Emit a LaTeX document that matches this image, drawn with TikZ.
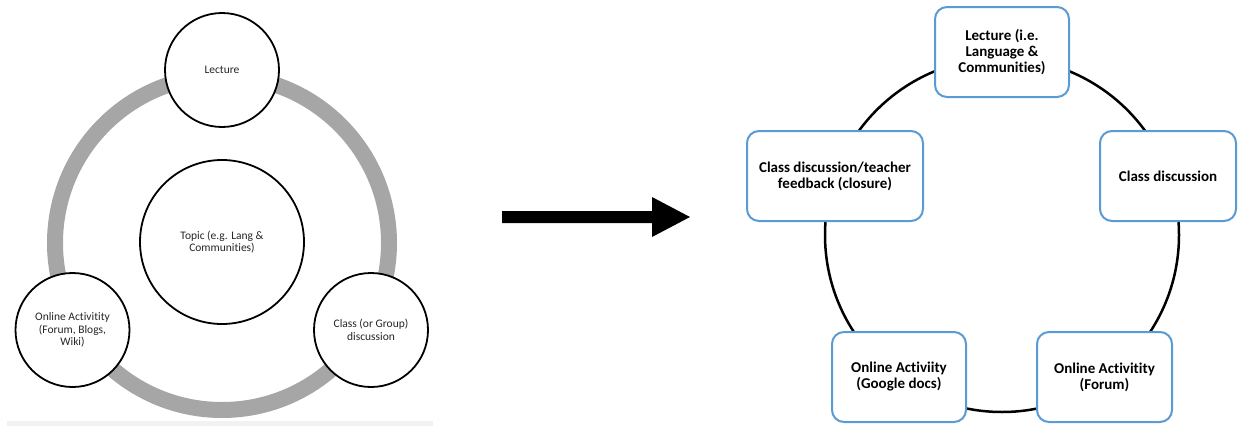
\documentclass[tikz,border=0pt]{standalone}
\usepackage{fontspec}
\usetikzlibrary{calc}
\setmainfont{Carlito}[Ligatures=NoCommon]
\definecolor{ringgray}{HTML}{A6A6A6}
\definecolor{cardblue}{HTML}{5B9BD5}
\definecolor{textdark}{HTML}{262626}
\definecolor{stripgray}{HTML}{F2F2F2}
\begin{document}
\begin{tikzpicture}[x=1pt,y=-1pt,
  ring/.style={draw=ringgray, line width=16pt},
  stage/.style={circle, draw=black, line width=1.8pt, fill=white,
    minimum size=114pt, inner sep=0pt, align=center,
    font=\fontsize{11.5}{12.5}\selectfont, text=textdark},
  hub/.style={stage, minimum size=164pt},
  card/.style={draw=cardblue, line width=2pt, rounded corners=12pt,
    fill=white, align=center, minimum height=90pt, inner sep=0pt,
    font=\fontsize{15}{16}\selectfont\bfseries, text=black},
  loop/.style={draw=black, line width=2.5pt},
  blockarrow/.style={fill=black}]
  \useasboundingbox (0,0) rectangle (1256,426);

  % ---- cycle around a topic ----
  \fill[stripgray] (7,421) rectangle (433,426);
  \coordinate (ringc) at (222,243);
  \draw[ring] (ringc) circle[radius=167];
  \node[hub]   (topic)   at (222,242) {Topic (e.g. Lang \&\\Communities)};
  \node[stage] (lecture) at (222,70)  {Lecture};
  \node[stage] (online)  at (72.5,330) {Online Activitity\\(Forum, Blogs,\\Wiki)};
  \node[stage] (class)   at (371,330) {Class (or Group)\\discussion};

  % ---- block arrow between the two cycles ----
  \coordinate (atail) at (502,217);
  \coordinate (atip)  at (690,217);
  \fill[blockarrow] ($(atail)+(0,-6)$) -- (652,211) -- (652,197) -- (atip)
    -- (652,237) -- (652,223) -- ($(atail)+(0,6)$) -- cycle;

  % ---- five-stage cycle ----
  \coordinate (loopc) at (1002,235);
  \draw[loop] (loopc) circle[radius=177];
  \node[card, minimum width=134pt] (lec2)  at (1002,52)  {Lecture (i.e.\\Language \&\\Communities)};
  \node[card, minimum width=136pt] (disc)  at (1168,176) {Class discussion};
  \node[card, minimum width=176pt] (close) at (835,176)  {Class discussion/teacher\\feedback (closure)};
  \node[card, minimum width=134pt] (gdocs) at (899,377)  {Online Activiity\\(Google docs)};
  \node[card, minimum width=135pt] (forum) at (1104.5,377) {Online Activitity\\(Forum)};
\end{tikzpicture}
\end{document}
